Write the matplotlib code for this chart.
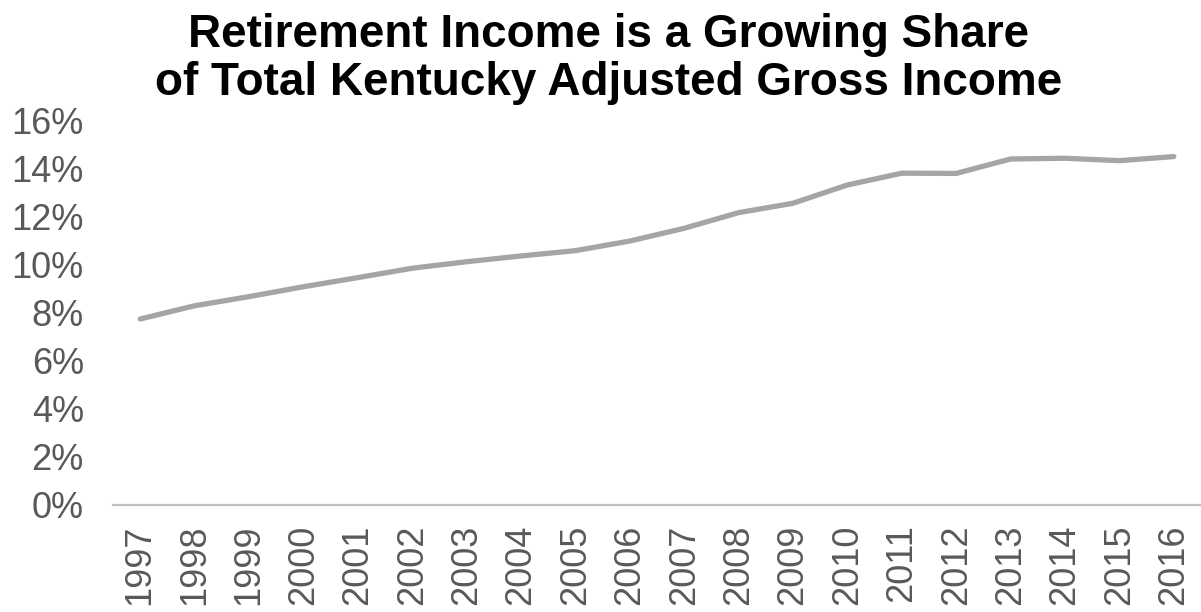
import matplotlib
matplotlib.use('Agg')
import matplotlib.pyplot as plt
from matplotlib.ticker import PercentFormatter

plt.rcParams['font.family'] = ['Liberation Sans', 'DejaVu Sans']

years = [str(y) for y in range(1997, 2017)]
retirement_share = [7.73, 8.28, 8.66, 9.07, 9.45, 9.84, 10.11, 10.35, 10.57, 10.97,
                    11.5, 12.15, 12.54, 13.3, 13.79, 13.78, 14.38, 14.41, 14.31, 14.48]
title = "Retirement Income is a Growing Share\nof Total Kentucky Adjusted Gross Income"

fig = plt.figure(figsize=(12.01, 6.12), dpi=100)
ax = fig.add_axes([113 / 1201, 1 - 505 / 612, 1088 / 1201, 385 / 612])

x = range(len(years))
ax.plot(x, retirement_share, color='#A5A5A5', linewidth=3.8,
        solid_capstyle='round', solid_joinstyle='round')

ax.set_xlim(-0.5, len(years) - 0.5)
ax.set_ylim(0, 16)
ax.set_yticks(range(0, 17, 2))
ax.yaxis.set_major_formatter(PercentFormatter(decimals=0))
ax.set_xticks(list(x))
ax.set_xticklabels(years, rotation=90)

for side in ['top', 'right', 'left']:
    ax.spines[side].set_visible(False)
ax.spines['bottom'].set_color('#BFBFBF')
ax.spines['bottom'].set_linewidth(1.6)

ax.tick_params(axis='y', length=0, pad=21, labelsize=26, labelcolor='#595959')
ax.tick_params(axis='x', length=0, pad=14, labelsize=26, labelcolor='#595959')

fig.text(0.507, 0.979, title, ha='center', va='top', fontsize=33,
         fontweight='bold', color='black', linespacing=1.12)

fig.savefig('out.png', dpi=100)
